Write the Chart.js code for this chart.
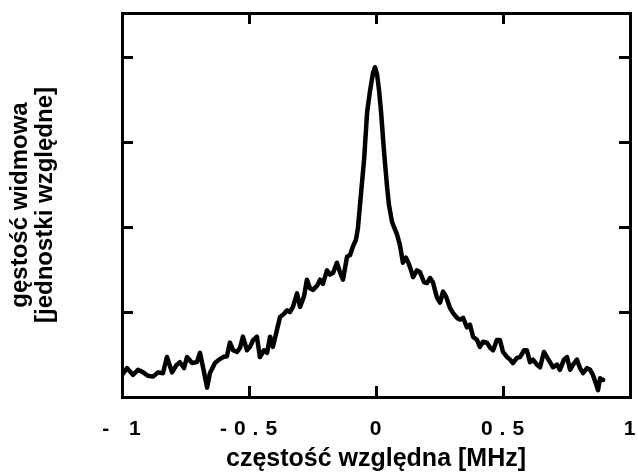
<!DOCTYPE html>
<html><head><meta charset="utf-8">
<script src="https://cdn.jsdelivr.net/npm/chart.js@4.4.0/dist/chart.umd.min.js"></script>
<style>html,body{margin:0;padding:0;background:#fff;}#wrap{width:638px;height:476px;}</style>
</head><body><div id="wrap"><canvas id="c" width="638" height="476"></canvas></div>
<script>
const freqMHz = [-1.000,-0.980,-0.957,-0.937,-0.917,-0.898,-0.878,-0.858,-0.839,-0.823,-0.803,-0.787,-0.772,-0.756,-0.744,-0.724,-0.705,-0.693,-0.681,-0.665,-0.654,-0.634,-0.618,-0.602,-0.587,-0.575,-0.563,-0.547,-0.535,-0.524,-0.508,-0.496,-0.484,-0.469,-0.457,-0.441,-0.429,-0.417,-0.406,-0.390,-0.378,-0.362,-0.350,-0.339,-0.327,-0.311,-0.299,-0.283,-0.272,-0.260,-0.248,-0.232,-0.220,-0.209,-0.193,-0.181,-0.169,-0.154,-0.142,-0.130,-0.114,-0.102,-0.091,-0.079,-0.071,-0.063,-0.047,-0.035,-0.024,-0.012,-0.004,0.004,0.012,0.020,0.031,0.043,0.051,0.063,0.075,0.083,0.094,0.106,0.118,0.126,0.138,0.146,0.161,0.173,0.189,0.201,0.213,0.224,0.240,0.252,0.264,0.276,0.291,0.303,0.319,0.331,0.343,0.358,0.370,0.382,0.398,0.409,0.421,0.437,0.449,0.461,0.476,0.488,0.500,0.516,0.528,0.539,0.555,0.567,0.583,0.594,0.606,0.618,0.634,0.646,0.661,0.673,0.685,0.697,0.713,0.724,0.740,0.752,0.764,0.776,0.791,0.803,0.815,0.831,0.843,0.854,0.870,0.874,0.882,0.894];
const density = [0.26,0.34,0.26,0.32,0.29,0.25,0.24,0.29,0.28,0.47,0.29,0.37,0.41,0.34,0.47,0.40,0.41,0.52,0.35,0.11,0.28,0.40,0.44,0.47,0.48,0.64,0.55,0.53,0.58,0.71,0.55,0.59,0.67,0.71,0.47,0.55,0.52,0.71,0.59,0.79,0.94,0.98,1.02,1.00,1.06,1.22,1.06,1.19,1.38,1.28,1.26,1.31,1.38,1.33,1.49,1.44,1.46,1.58,1.47,1.38,1.65,1.67,1.77,1.85,1.99,2.26,2.79,3.35,3.59,3.81,3.88,3.80,3.61,3.35,2.91,2.49,2.26,2.06,1.97,1.91,1.79,1.58,1.64,1.59,1.49,1.41,1.49,1.47,1.35,1.34,1.40,1.35,1.17,1.11,1.24,1.18,1.05,0.99,0.93,0.91,0.93,0.82,0.85,0.71,0.67,0.59,0.65,0.64,0.58,0.55,0.67,0.67,0.53,0.47,0.44,0.40,0.46,0.47,0.55,0.55,0.41,0.44,0.38,0.35,0.53,0.47,0.41,0.35,0.38,0.32,0.44,0.47,0.32,0.38,0.44,0.34,0.28,0.34,0.32,0.26,0.12,0.08,0.22,0.20];
const xTickValues = [-1, -0.5, 0, 0.5, 1];
const xTickLabels = ['- 1', '-0.5', '0', '0.5', '1'];
const yTickValues = [1, 2, 3, 4];
const xTitle = 'częstość względna [MHz]';
const yTitle = ['gęstość widmowa', '[jednostki względne]'];

const FONT = '"Liberation Sans", Arial, Helvetica, sans-serif';
const frameGrid = {drawOnChartArea:false, drawTicks:true, tickLength:-11, lineWidth:3, color:'#000'};
const frameBorder = {display:true, width:3, color:'#000'};

const spacedTicks = {
  id:'spacedTicks',
  beforeDraw(chart){
    const s = chart.scales.x;
    if (!s._spaced){
      const orig = s.drawLabels;
      s.drawLabels = function(a){
        const ctx = this.ctx; const prev = ctx.letterSpacing;
        ctx.save(); ctx.translate(3, 0);
        ctx.letterSpacing = '7px'; orig.call(this, a); ctx.letterSpacing = prev || '0px';
        ctx.restore();
      };
      s._spaced = true;
    }
  }
};

new Chart(document.getElementById('c'), {
  type:'scatter',
  data:{datasets:[{
    data: freqMHz.map((f,i)=>({x:f, y:density[i]})),
    showLine:true, pointRadius:0, borderColor:'#000', borderWidth:4.5,
    borderJoinStyle:'round', borderCapStyle:'round', tension:0, xAxisID:'x', yAxisID:'y'
  }]},
  options:{
    responsive:false, animation:false, devicePixelRatio:1,
    layout:{padding:{top:13, right:8, left:0, bottom:0}},
    plugins:{legend:{display:false}, tooltip:{enabled:false}},
    scales:{
      x:{type:'linear', position:'bottom', min:-1, max:1,
        afterBuildTicks:s=>{s.ticks = xTickValues.map(v=>({value:v}));},
        ticks:{callback:(v,i)=>xTickLabels[i], autoSkip:false, maxRotation:0, color:'#000', padding:0,
          font:{family:FONT, size:21, weight:'bold', lineHeight:4.15}},
        grid:frameGrid, border:frameBorder,
        title:{display:true, text:xTitle, color:'#000', font:{family:FONT, size:25, weight:'bold', lineHeight:1.2}, padding:{top:0,bottom:2}},
        afterFit:s=>{s.height = 79;}
      },
      x2:{type:'linear', position:'top', display:true, min:-1, max:1,
        afterBuildTicks:s=>{s.ticks = xTickValues.map(v=>({value:v}));},
        ticks:{display:false}, grid:frameGrid, border:frameBorder,
        afterFit:s=>{s.height = 0;}
      },
      y:{type:'linear', position:'left', min:0, max:4.518,
        afterBuildTicks:s=>{s.ticks = yTickValues.map(v=>({value:v}));},
        ticks:{display:false}, grid:frameGrid, border:frameBorder,
        title:{display:true, text:yTitle, color:'#000', font:{family:FONT, size:24, weight:'bold', lineHeight:1.05}, padding:{top:8,bottom:0}},
        afterFit:s=>{s.width = 122;}
      },
      y2:{type:'linear', position:'right', display:true, min:0, max:4.518,
        afterBuildTicks:s=>{s.ticks = yTickValues.map(v=>({value:v}));},
        ticks:{display:false}, grid:frameGrid, border:frameBorder,
        afterFit:s=>{s.width = 0;}
      }
    }
  },
  plugins:[spacedTicks]
});
</script></body></html>
